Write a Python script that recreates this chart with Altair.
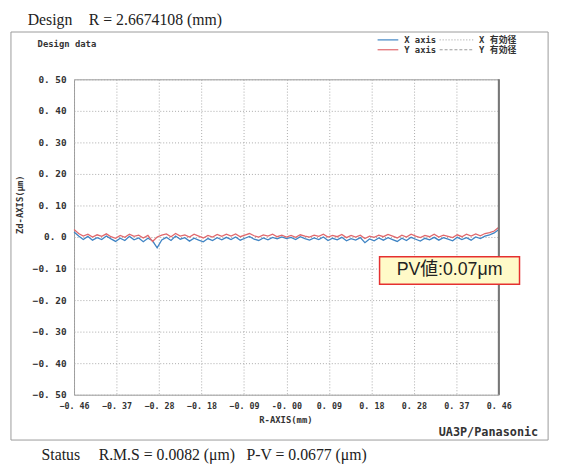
import altair as alt
import pandas as pd

# sample positions (mm)
r_pos = [-0.46, -0.45, -0.44, -0.43, -0.42, -0.41, -0.40, -0.39, -0.38, -0.37,
         -0.36, -0.35, -0.34, -0.33, -0.32, -0.31, -0.30, -0.29, -0.28, -0.27,
         -0.26, -0.25, -0.24, -0.23, -0.22, -0.21, -0.20, -0.19, -0.18, -0.17,
         -0.16, -0.15, -0.14, -0.13, -0.12, -0.11, -0.10, -0.09, -0.08, -0.07,
         -0.06, -0.05, -0.04, -0.03, -0.02, -0.01, 0.00, 0.01, 0.02, 0.03,
         0.04, 0.05, 0.06, 0.07, 0.08, 0.09, 0.10, 0.11, 0.12, 0.13,
         0.14, 0.15, 0.16, 0.17, 0.18, 0.19, 0.20, 0.21, 0.22, 0.23,
         0.24, 0.25, 0.26, 0.27, 0.28, 0.29, 0.30, 0.31, 0.32, 0.33,
         0.34, 0.35, 0.36, 0.37, 0.38, 0.39, 0.40, 0.41, 0.42, 0.43,
         0.44, 0.45, 0.46]

# X axis profile (um)
x_axis_zd = [0.016, 0.003, -0.008, 0.002, -0.010, -0.002, -0.008, 0.003, -0.006, -0.014,
             -0.004, -0.011, 0.002, -0.009, -0.003, -0.015, -0.004, -0.012, -0.034, -0.009,
             -0.001, -0.011, 0.003, -0.007, -0.002, -0.013, -0.004, -0.010, -0.015, -0.005,
             -0.011, -0.002, -0.009, -0.001, -0.008, 0.000, -0.010, -0.004, 0.002, -0.007,
             -0.011, -0.003, -0.009, -0.001, -0.006, 0.000, -0.005, -0.001, -0.008, 0.001,
             -0.005, -0.010, -0.003, -0.008, 0.000, -0.011, -0.004, -0.009, -0.001, -0.012,
             -0.005, -0.010, -0.002, -0.018, -0.006, -0.012, -0.003, -0.010, -0.002, -0.008,
             -0.014, -0.004, -0.011, -0.001, -0.007, -0.013, -0.004, -0.009, -0.001, -0.010,
             -0.002, -0.007, -0.012, -0.001, -0.008, -0.002, -0.010, 0.000, -0.005, 0.003,
             0.007, 0.013, 0.024]

# Y axis profile (um)
y_axis_zd = [0.024, 0.011, 0.003, 0.009, 0.000, 0.007, 0.002, 0.010, 0.001, -0.004,
             0.005, -0.001, 0.009, 0.002, 0.006, -0.003, 0.005, -0.014, 0.000, 0.006,
             0.010, 0.001, 0.011, 0.003, 0.007, 0.000, 0.009, 0.003, -0.003, 0.005,
             0.000, 0.008, 0.002, 0.009, 0.003, 0.010, 0.001, 0.006, 0.011, 0.004,
             0.000, 0.007, 0.003, 0.009, 0.001, 0.006, 0.000, 0.005, -0.001, 0.007,
             0.003, 0.000, 0.006, 0.002, 0.009, 0.000, 0.005, 0.001, 0.008, -0.002,
             0.005, 0.000, 0.006, -0.005, 0.003, -0.001, 0.006, 0.001, 0.008, 0.003,
             -0.003, 0.006, 0.000, 0.009, 0.003, -0.002, 0.005, 0.001, 0.009, 0.000,
             0.006, 0.002, -0.002, 0.007, 0.001, 0.009, 0.003, 0.010, 0.004, 0.011,
             0.014, 0.019, 0.031]

x_ticks = [-0.46, -0.368, -0.276, -0.184, -0.092, 0.0, 0.092, 0.184, 0.276, 0.368, 0.46]
y_ticks = [-0.5, -0.4, -0.3, -0.2, -0.1, 0.0, 0.1, 0.2, 0.3, 0.4, 0.5]

W, H = 431, 320
OX, OY = 75, 77  # plot origin in page coords

MONO = "DejaVu Sans Mono, Noto Sans CJK JP"
SERIF = "Liberation Serif, DejaVu Serif"

df = pd.DataFrame({
    "r": r_pos * 2,
    "zd": x_axis_zd + y_axis_zd,
    "series": ["X axis"] * len(r_pos) + ["Y axis"] * len(r_pos),
})

one = pd.DataFrame({"d": [0]})


def px(v):
    return alt.value(v - OX)


def py(v):
    return alt.value(v - OY)


def txt(s, x, y, size=9, font=MONO, weight="bold", align="left", color="#333", angle=0):
    return alt.Chart(one).mark_text(
        text=s, fontSize=size, font=font, fontWeight=weight, align=align,
        baseline="middle", color=color, angle=angle
    ).encode(x=px(x), y=py(y))


x_enc = alt.X("r:Q", scale=alt.Scale(domain=[-0.46, 0.46], nice=False, zero=False),
              axis=alt.Axis(values=x_ticks, title=None, grid=True, gridDash=[1, 2],
                            gridColor="#aaa", ticks=False, domain=False,
                            labelExpr="abs(datum.value) < 1e-9 ? '-0. 00' : replace(format(datum.value, '.2f'), '.', '. ')",
                            labelFont=MONO, labelFontWeight="bold", labelFontSize=8.5,
                            labelColor="#333", labelPadding=7, labelFlush=False,
                            labelOverlap=False))
y_enc = alt.Y("zd:Q", scale=alt.Scale(domain=[-0.5, 0.5], nice=False),
              axis=alt.Axis(values=y_ticks, title=None, grid=True, gridDash=[1, 2],
                            gridColor="#aaa", ticks=False, domain=False,
                            labelExpr="abs(datum.value) < 1e-9 ? '0. 0' : replace(format(datum.value, '.2f'), '.', '. ')",
                            labelFont=MONO, labelFontWeight="bold", labelFontSize=9.5,
                            labelColor="#333", labelPadding=8, labelOverlap=False))

lines = alt.Chart(df).mark_line(strokeWidth=1.3).encode(
    x=x_enc, y=y_enc,
    color=alt.Color("series:N", scale=alt.Scale(domain=["X axis", "Y axis"],
                                                range=["#3f84c4", "#e0686c"]), legend=None),
    detail="series:N",
)

right_border = alt.Chart(one).mark_rule(color="#777", strokeWidth=2).encode(
    x=alt.value(W), y=alt.value(0), y2=alt.value(H))

frame = alt.Chart(one).mark_rect(fillOpacity=0, stroke="#9a9a9a", strokeWidth=1).encode(
    x=px(11), x2=px(556), y=py(29), y2=py(443))

# legend
leg = [
    alt.Chart(one).mark_rule(color="#3f84c4", strokeWidth=1.2).encode(x=px(383), x2=px(404), y=py(37)),
    alt.Chart(one).mark_rule(color="#e0686c", strokeWidth=1.2).encode(x=px(383), x2=px(404), y=py(47)),
    alt.Chart(one).mark_rule(color="#999", strokeWidth=1, strokeDash=[1, 2]).encode(x=px(446), x2=px(480), y=py(37)),
    alt.Chart(one).mark_rule(color="#999", strokeWidth=1, strokeDash=[3, 2]).encode(x=px(446), x2=px(480), y=py(47)),
    txt("X axis", 410, 37),
    txt("Y axis", 410, 47),
    txt("X 有効径", 486, 37),
    txt("Y 有効径", 486, 47),
]

texts = [
    txt("Design", 28, 17, size=16, font=SERIF, weight="normal", color="#222"),
    txt("R =  2.6674108 (mm)", 90, 17, size=16, font=SERIF, weight="normal", color="#222"),
    txt("Design data", 38, 41),
    txt("Zd-AXIS(μm)", 20, 234, angle=270),
    txt("R-AXIS(mm)", 290, 423, align="center"),
    txt("UA3P/Panasonic", 546, 435, size=12, align="right"),
    txt("Status", 42, 458, size=16, font=SERIF, weight="normal", color="#222"),
    txt("R.M.S = 0.0082 (μm)", 100, 458, size=16, font=SERIF, weight="normal", color="#222"),
    txt("P-V = 0.0677 (μm)", 250, 458, size=16, font=SERIF, weight="normal", color="#222"),
]

pv_box = alt.Chart(one).mark_rect(fill="#fffac8", stroke="#e53030", strokeWidth=1.5).encode(
    x=px(385), x2=px(527), y=py(257), y2=py(285))
pv_text = txt("PV値:0.07μm", 456, 271, size=18, font="Liberation Sans, Noto Sans CJK JP",
              weight="normal", align="center", color="#222")

chart = alt.layer(frame, lines, right_border, *leg, *texts, pv_box, pv_text).properties(
    width=W, height=H,
    autosize=alt.AutoSizeParams(type="none"),
    padding={"left": OX - 8, "top": OY - 8, "right": 555 - (OX - 8) - W, "bottom": 460 - (OY - 8) - H},
    background="white",
).configure_view(stroke="#999", strokeWidth=1)

chart.save("out.html", embed_options={"renderer": "svg", "actions": False})
